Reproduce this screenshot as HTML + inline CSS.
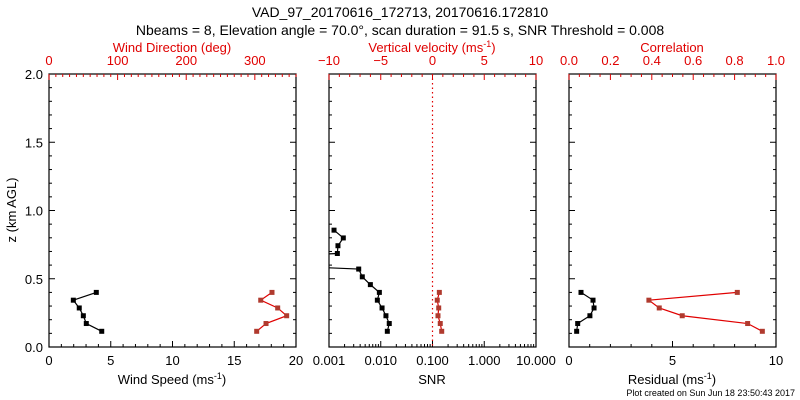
<!DOCTYPE html>
<html><head><meta charset="utf-8"><style>
body{margin:0;background:#fff}
svg{display:block;font-family:"Liberation Sans",sans-serif}
</style></head><body>
<svg id="c" width="800" height="400"></svg>
<script>
const heights=[0.115,0.172,0.229,0.286,0.343,0.400];
const windSpeed=[4.27,3.02,2.78,2.45,1.97,3.83];
const windDir=[302.7,316.3,346.4,333.3,308.6,325.0];
const snrHeights=[0.115,0.172,0.229,0.286,0.343,0.400,0.457,0.514,0.571,0.628,0.685,0.742,0.799,0.856];
const snrValues=[0.0134,0.0146,0.0126,0.0106,0.0086,0.0094,0.0063,0.0044,0.00375,0.000001,0.00145,0.00149,0.00189,0.00125];
const wVel=[0.89,0.75,0.53,0.60,0.46,0.66];
const residual=[0.37,0.42,1.01,1.21,1.16,0.58];
const correlation=[0.934,0.863,0.547,0.436,0.386,0.813];
const zTicks=[0,0.5,1.0,1.5,2.0];
const wsTicks=[0,5,10,15,20];
const dirTicks=[0,100,200,300];
const snrTicks=[0.001,0.01,0.1,1,10];
const snrLabels=["0.001","0.010","0.100","1.000","10.000"];
const wTicks=[-10,-5,0,5,10];
const resTicks=[0,5,10];
const corTicks=[0,0.2,0.4,0.6,0.8,1.0];

const S="http://www.w3.org/2000/svg",svg=document.getElementById('c');
function el(t,a,p){const e=document.createElementNS(S,t);for(const k in a)e.setAttribute(k,a[k]);(p||svg).appendChild(e);return e;}
function txt(x,y,s,o){o=o||{};const e=el('text',{x:x,y:y,'font-size':o.fs||13,fill:o.fill||'#000','text-anchor':o.anchor||'middle'},o.p);e.innerHTML=s;return e;}
const Y0=347,Y1=74;
const yS=z=>Y0-(z/2)*(Y0-Y1);
function lin(a,b,x0,x1){return v=>x0+(v-a)/(b-a)*(x1-x0);}
function logS(a,b,x0,x1){return v=>x0+(Math.log10(v)-Math.log10(a))/(Math.log10(b)-Math.log10(a))*(x1-x0);}

txt(400,17,"VAD_97_20170616_172713, 20170616.172810",{fs:14});
txt(400,35,"Nbeams = 8, Elevation angle = 70.0°, scan duration = 91.5 s, SNR Threshold = 0.008",{fs:14});

function panel(name,x0,x1){
  const g=el('g',{});
  el('rect',{x:x0,y:Y1,width:x1-x0,height:Y0-Y1,fill:'none',stroke:'#000','stroke-width':1.2},g);
  for(let z=0;z<=2.001;z+=0.1){const y=yS(z),L=(Math.round(z*10)%5==0)?6:3;
    el('line',{x1:x0,y1:y,x2:x0+L,y2:y,stroke:'#000'},g);el('line',{x1:x1,y1:y,x2:x1-L,y2:y,stroke:'#000'},g);}
  return g;
}
function hticks(g,xs,y,L,dir,col){xs.forEach(x=>el('line',{x1:x,y1:y,x2:x,y2:y+dir*L,stroke:col||'#000'},g));}
function series(g,xs,ys,lc,mc,name,x0,x1){
  const cid='clip'+name;const cp=el('clipPath',{id:cid},g);el('rect',{x:x0,y:Y1,width:x1-x0,height:Y0-Y1},cp);
  const pts=xs.map((x,i)=>x+','+ys[i]).join(' ');
  const pl=el('polyline',{points:pts,fill:'none',stroke:lc,'stroke-width':1.2,'clip-path':'url(#'+cid+')'},g);
  
  xs.forEach((x,i)=>{if(x<x0||x>x1)return;const m=el('rect',{x:x-2.5,y:ys[i]-2.5,width:5,height:5,fill:mc},g);
    });
}
const red='#e00000',mred='#b03a2e';

// Panel 1
{const x0=49,x1=296,g=panel('wind-panel',x0,x1),xs=lin(0,20,x0,x1),xd=lin(0,360,x0,x1);
 zTicks.forEach(z=>txt(x0-6,yS(z)+5,z.toFixed(1),{anchor:'end'}));
 const mj=[],mn=[];for(let v=0;v<=20;v++)(v%5?mn:mj).push(xs(v));
 hticks(g,mj,Y0,6,-1);hticks(g,mn,Y0,3,-1);
 wsTicks.forEach(v=>txt(xs(v),365,v));
 const dm=[],dn=[];for(let v=0;v<=360;v+=10)(v%100?dn:dm).push(xd(v));
 hticks(g,dm,Y1,6,1,red);hticks(g,dn,Y1,3,1,red);
 dirTicks.forEach(v=>txt(xd(v),65,v,{fill:red}));
 txt(172,52,"Wind Direction (deg)",{fill:red});
 txt(172,384,"Wind Speed (ms<tspan font-size='9' dy='-5'>-1</tspan><tspan dy='5'>)</tspan>");
 const yl=txt(0,0,"z (km AGL)");yl.setAttribute('transform','translate(16,210) rotate(-90)');
 series(g,windSpeed.map(xs),heights.map(yS),'#000','#000','wind-speed',x0,x1);
 series(g,windDir.map(xd),heights.map(yS),red,mred,'wind-direction',x0,x1);}

// Panel 2
{const x0=329,x1=536,g=panel('snr-panel',x0,x1),xs=logS(0.001,10,x0,x1),xw=lin(-10,10,x0,x1);
 const mj=[],mn=[];for(let d=-3;d<1;d++){mj.push(xs(Math.pow(10,d)));for(let k=2;k<10;k++)mn.push(xs(k*Math.pow(10,d)));}mj.push(xs(10));
 hticks(g,mj,Y0,6,-1);hticks(g,mn,Y0,3,-1);
 snrTicks.forEach((v,i)=>txt(xs(v),365,snrLabels[i]));
 const wm=[],wn=[];for(let v=-10;v<=10;v++)(v%5?wn:wm).push(xw(v));
 hticks(g,wm,Y1,6,1,red);hticks(g,wn,Y1,3,1,red);
 wTicks.forEach(v=>txt(xw(v),65,v<0?'−'+(-v):v,{fill:red}));
 txt(432,52,"Vertical velocity (ms<tspan font-size='9' dy='-5'>-1</tspan><tspan dy='5'>)</tspan>",{fill:red});
 txt(432,384,"SNR");
 const d=el('line',{x1:xw(0),y1:Y1,x2:xw(0),y2:Y0,stroke:red,'stroke-dasharray':'1.5,3','stroke-width':1.2},g);
 
 series(g,snrValues.map(xs),snrHeights.map(yS),'#000','#000','snr',x0,x1);
 series(g,wVel.map(xw),heights.map(yS),red,mred,'vertical-velocity',x0,x1);}

// Panel 3
{const x0=569,x1=776,g=panel('residual-panel',x0,x1),xr=lin(0,10,x0,x1),xc=lin(0,1,x0,x1);
 const mj=[],mn=[];for(let v=0;v<=10;v++)(v%5?mn:mj).push(xr(v));
 hticks(g,mj,Y0,6,-1);hticks(g,mn,Y0,3,-1);
 resTicks.forEach(v=>txt(xr(v),365,v));
 const cm=[],cn=[];for(let i=0;i<=20;i++)(i%4?cn:cm).push(xc(i/20));
 hticks(g,cm,Y1,6,1,red);hticks(g,cn,Y1,3,1,red);
 corTicks.forEach(v=>txt(xc(v),65,v.toFixed(1),{fill:red}));
 txt(672,52,"Correlation",{fill:red});
 txt(672,384,"Residual (ms<tspan font-size='9' dy='-5'>-1</tspan><tspan dy='5'>)</tspan>");
 series(g,residual.map(xr),heights.map(yS),'#000','#000','residual',x0,x1);
 series(g,correlation.map(xc),heights.map(yS),red,mred,'correlation',x0,x1);}

txt(795,396,"Plot created on Sun Jun 18 23:50:43 2017",{fs:9,anchor:'end'});
</script>
</body></html>
